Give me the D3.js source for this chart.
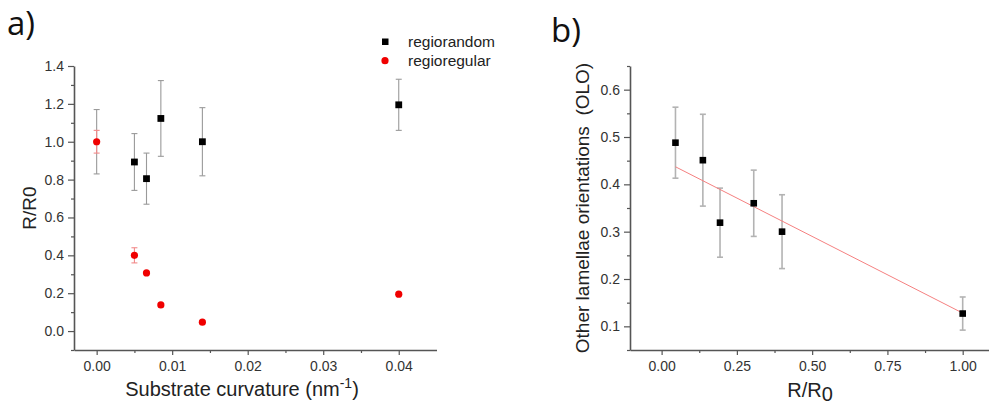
<!DOCTYPE html>
<html>
<head>
<meta charset="utf-8">
<script src="https://cdn.jsdelivr.net/npm/d3@7"></script>
<style>
  html, body { margin: 0; padding: 0; background: #fff; }
  svg { display: block; }
  .tick text { font-family: "Liberation Sans", Arial, sans-serif; font-size: 14px; fill: #333; }
  .axis path, .axis line { stroke: #555; }
</style>
</head>
<body>
<svg id="chart" width="989" height="405"></svg>
<script>
// Panel a: R/R0 versus substrate curvature
const curvature = [0, 0.005, 0.0066, 0.0085, 0.014, 0.04];
const randomR = [1.0, 0.893, 0.805, 1.123, 1.0, 1.195];
const randomErr = [0.17, 0.15, 0.135, 0.2, 0.18, 0.135];
const regularR = [1.0, 0.40, 0.307, 0.138, 0.047, 0.195];
const regularErr = [0.06, 0.04, 0, 0, 0, 0];

// Panel b: other lamellae orientations versus R/R0
const ratioR = [0.046, 0.137, 0.194, 0.306, 0.40, 1.0];
const olo = [0.488, 0.451, 0.319, 0.36, 0.30, 0.127];
const oloErr = [0.075, 0.097, 0.073, 0.07, 0.078, 0.035];
// linear fit through panel b
const fitIntercept = 0.452;
const fitSlope = -0.324;

const xTicksA = [0, 0.01, 0.02, 0.03, 0.04];
const yTicksA = [0, 0.2, 0.4, 0.6, 0.8, 1.0, 1.2, 1.4];
const xTicksB = [0, 0.25, 0.5, 0.75, 1.0];
const yTicksB = [0.1, 0.2, 0.3, 0.4, 0.5, 0.6];

const svg = d3.select("#chart");
const FONT = "'Liberation Sans', Arial, sans-serif";

function drawAxes(g, x, y, xTicks, yTicks, xMinor, yMinor, xFmt, yFmt, yBase, xBase) {
  g.append("g").attr("class", "axis").attr("transform", `translate(0,${yBase})`)
    .call(d3.axisBottom(x).tickValues(xTicks).tickFormat(xFmt).tickSize(5).tickSizeOuter(0).tickPadding(6));
  g.append("g").attr("class", "axis").attr("transform", `translate(0,${yBase})`)
    .call(d3.axisBottom(x).tickValues(xMinor).tickFormat("").tickSize(3).tickSizeOuter(0))
    .select(".domain").remove();
  g.append("g").attr("class", "axis").attr("transform", `translate(${xBase},0)`)
    .call(d3.axisLeft(y).tickValues(yTicks).tickFormat(yFmt).tickSize(6).tickSizeOuter(0).tickPadding(4));
  g.append("g").attr("class", "axis").attr("transform", `translate(${xBase},0)`)
    .call(d3.axisLeft(y).tickValues(yMinor).tickFormat("").tickSize(3).tickSizeOuter(0))
    .select(".domain").remove();
  g.selectAll(".axis .domain").attr("stroke-width", 1.6);
  g.selectAll(".axis line").attr("stroke-width", 1.2);
}

function errorBars(g, xs, ys, errs, x, y, color, width) {
  const cap = 3;
  const data = xs.map((v, i) => ({ x: v, y: ys[i], e: errs[i] })).filter(d => d.e > 0);
  const eb = g.append("g").attr("stroke", color).attr("stroke-width", width).attr("fill", "none");
  eb.selectAll("line.v").data(data).join("line")
    .attr("x1", d => x(d.x)).attr("x2", d => x(d.x))
    .attr("y1", d => y(d.y + d.e)).attr("y2", d => y(d.y - d.e));
  eb.selectAll("line.t").data(data).join("line")
    .attr("x1", d => x(d.x) - cap).attr("x2", d => x(d.x) + cap)
    .attr("y1", d => y(d.y + d.e)).attr("y2", d => y(d.y + d.e));
  eb.selectAll("line.b").data(data).join("line")
    .attr("x1", d => x(d.x) - cap).attr("x2", d => x(d.x) + cap)
    .attr("y1", d => y(d.y - d.e)).attr("y2", d => y(d.y - d.e));
}

// ---------- Panel a ----------
const ga = svg.append("g");
const xA = d3.scaleLinear().domain([-0.003, 0.045]).range([74, 436.5]);
const yA = d3.scaleLinear().domain([-0.1, 1.4]).range([350, 66]);

drawAxes(ga, xA, yA, xTicksA, yTicksA,
  [0.005, 0.015, 0.025, 0.035],
  [-0.1, 0.1, 0.3, 0.5, 0.7, 0.9, 1.1, 1.3],
  d3.format(".2f"), d3.format(".1f"), 350, 74);

errorBars(ga, curvature, randomR, randomErr, xA, yA, "#9a9a9a", 1.1);
// at zero curvature both films share the reference point; the regioregular marker covers it
const randomPts = curvature.map((c, i) => ({ c, r: randomR[i] })).filter(d => d.c > 0);
ga.append("g").selectAll("rect").data(randomPts).join("rect")
  .attr("x", d => xA(d.c) - 3.4).attr("y", d => yA(d.r) - 3.4)
  .attr("width", 6.8).attr("height", 6.8).attr("fill", "#000");

errorBars(ga, curvature, regularR, regularErr, xA, yA, "#f28a8a", 1.1);
ga.append("g").selectAll("circle").data(curvature).join("circle")
  .attr("cx", d => xA(d)).attr("cy", (d, i) => yA(regularR[i]))
  .attr("r", 3.6).attr("fill", "#f00000");

// legend
const leg = ga.append("g").attr("font-family", FONT).attr("font-size", 15.5).attr("fill", "#222");
leg.append("rect").attr("x", 382).attr("y", 38.5).attr("width", 6.5).attr("height", 6.5).attr("fill", "#000");
leg.append("text").attr("x", 408).attr("y", 47).text("regiorandom");
leg.append("circle").attr("cx", 385).attr("cy", 60.7).attr("r", 3.6).attr("fill", "#f00000");
leg.append("text").attr("x", 408).attr("y", 66).text("regioregular");

// titles
svg.append("text").attr("x", 7).attr("y", 35).attr("font-family", "'Open Sans', sans-serif")
  .attr("font-size", 33).attr("fill", "#111").text("a)");
svg.append("text").attr("transform", "translate(36,208) rotate(-90)").attr("text-anchor", "middle")
  .attr("font-family", FONT).attr("font-size", 19).attr("fill", "#222").text("R/R0");
const xtA = svg.append("text").attr("x", 242).attr("y", 396).attr("text-anchor", "middle")
  .attr("font-family", FONT).attr("font-size", 20).attr("fill", "#222");
xtA.append("tspan").text("Substrate curvature (nm");
xtA.append("tspan").attr("dy", -8).attr("font-size", 14).text("-1");
xtA.append("tspan").attr("dy", 8).text(")");

// ---------- Panel b ----------
const gb = svg.append("g");
const xB = d3.scaleLinear().domain([-0.105, 1.1]).range([630, 992.8]);
const yB = d3.scaleLinear().domain([0.05, 0.65]).range([350, 66]);

drawAxes(gb, xB, yB, xTicksB, yTicksB,
  [0.125, 0.375, 0.625, 0.875],
  [0.05, 0.15, 0.25, 0.35, 0.45, 0.55, 0.65],
  d3.format(".2f"), d3.format(".1f"), 350, 630);

errorBars(gb, ratioR, olo, oloErr, xB, yB, "#b3b3b3", 1.6);

const fitX = [d3.min(ratioR), d3.max(ratioR)];
gb.append("line")
  .attr("x1", xB(fitX[0])).attr("y1", yB(fitIntercept + fitSlope * fitX[0]))
  .attr("x2", xB(fitX[1])).attr("y2", yB(fitIntercept + fitSlope * fitX[1]))
  .attr("stroke", "#f58080").attr("stroke-width", 1);

gb.append("g").selectAll("rect").data(ratioR).join("rect")
  .attr("x", d => xB(d) - 3.3).attr("y", (d, i) => yB(olo[i]) - 3.3)
  .attr("width", 6.6).attr("height", 6.6).attr("fill", "#000");

svg.append("text").attr("x", 551).attr("y", 42).attr("font-family", "'Open Sans', sans-serif")
  .attr("font-size", 33).attr("fill", "#111").text("b)");
svg.append("text").attr("transform", "translate(589,208) rotate(-90)").attr("text-anchor", "middle")
  .attr("font-family", FONT).attr("font-size", 19).attr("fill", "#222")
  .attr("xml:space", "preserve").style("white-space", "pre")
  .text("Other lamellae orientations  (OLO)");
const xtB = svg.append("text").attr("x", 810).attr("y", 397).attr("text-anchor", "middle")
  .attr("font-family", FONT).attr("font-size", 20).attr("fill", "#222");
xtB.append("tspan").text("R/R");
xtB.append("tspan").attr("dy", 4).text("0");
</script>
</body>
</html>
